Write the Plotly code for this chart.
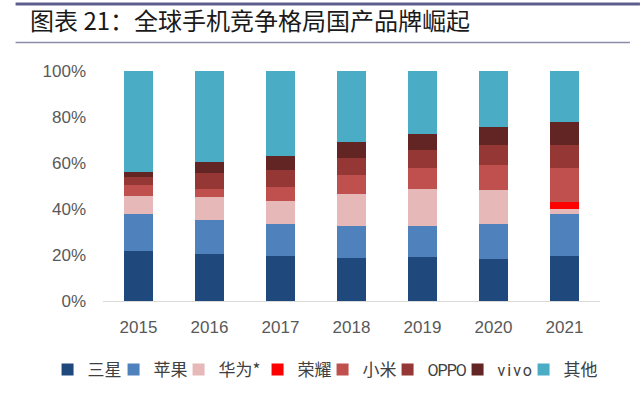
import plotly.graph_objects as go

years = ["2015", "2016", "2017", "2018", "2019", "2020", "2021"]
brands = ["三星", "苹果", "华为*", "荣耀", "小米", "OPPO", "vivo", "其他"]

samsung = [21.6, 20.4, 19.6, 18.8, 19.1, 18.4, 19.6]
apple = [16.4, 14.8, 13.9, 13.8, 13.3, 15.2, 18.1]
huawei = [7.5, 9.9, 10.0, 13.9, 16.4, 14.5, 2.3]
honor = [0, 0, 0, 0, 0, 0, 3.2]
xiaomi = [5.1, 3.6, 6.1, 8.3, 9.0, 10.9, 14.8]
oppo = [3.3, 7.0, 7.2, 7.4, 7.7, 8.7, 9.8]
vivo = [2.0, 4.8, 6.2, 6.8, 7.0, 8.0, 9.9]
others = [44.0, 39.6, 37.0, 31.0, 27.5, 24.3, 22.3]

series = [samsung, apple, huawei, honor, xiaomi, oppo, vivo, others]
colors = ["#1F497D", "#4F81BD", "#E6B9B8", "#FF0000", "#C0504D", "#953735", "#632523", "#4BACC6"]
legend_labels = ["三星", "苹果", "华为*", "荣耀", "小米",
                 "<span style='font-family:Roboto;font-size:16px;letter-spacing:-1px'>OPPO</span>",
                 "<span style='font-family:Roboto;font-size:16px;letter-spacing:2px'>vivo</span>",
                 "其他"]
legend_widths = [21, 20, 34, 20, 20, 25, 21, 36]

fig = go.Figure()
for name, label, vals, col, lw in zip(brands, legend_labels, series, colors, legend_widths):
    fig.add_trace(go.Bar(
        x=years, y=vals, name=label,
        marker=dict(color=col, line=dict(width=0)),
        legendwidth=lw,
    ))

W, H = 640, 399
L, R = 102.5, 600
T, B = 71, 301

def px_x(p):
    return (p - L) / (R - L)

def px_y(p):
    return (B - p) / (B - T)

fig.update_layout(
    width=W, height=H,
    margin=dict(l=L, r=W - R, t=T, b=H - B, pad=0, autoexpand=False),
    barmode="stack",
    bargap=0.6,
    plot_bgcolor="white",
    paper_bgcolor="white",
    font=dict(family="Liberation Sans, Arial, sans-serif", color="#595959"),
    title=dict(
        text="图表 21：全球手机竞争格局国产品牌崛起",
        font=dict(family="Noto Sans CJK SC", size=24, color="#1a1a1a"),
        x=30 / W, xanchor="left", xref="container",
        y=1 - 22 / H, yanchor="middle", yref="container",
    ),
    legend=dict(
        orientation="h",
        x=px_x(47), xanchor="left",
        y=px_y(370), yanchor="middle",
        font=dict(family="Noto Sans CJK SC", size=17, color="#404040"),
        traceorder="normal",
        itemclick=False,
        bgcolor="rgba(0,0,0,0)",
        entrywidthmode="pixels",
    ),
    showlegend=True,
    shapes=[
        dict(type="line", xref="paper", yref="paper",
             x0=px_x(15), x1=px_x(640), y0=px_y(4), y1=px_y(4),
             line=dict(color="#5E5E8E", width=3)),
        dict(type="line", xref="paper", yref="paper",
             x0=px_x(15), x1=px_x(630), y0=px_y(42.5), y1=px_y(42.5),
             line=dict(color="#8C8CA8", width=1.5)),
    ],
)

fig.update_xaxes(
    type="category",
    showgrid=False,
    showline=True, linecolor="#D9D9D9", linewidth=1.2,
    ticks="", ticklabelstandoff=10,
    tickfont=dict(size=17, color="#595959"),
)
fig.update_yaxes(
    range=[0, 100],
    dtick=20,
    ticksuffix="%",
    showgrid=False,
    showline=False,
    zeroline=False,
    ticks="", ticklabelstandoff=16,
    tickfont=dict(size=17, color="#595959"),
)

fig.write_html("out.html", config={"displayModeBar": False},
               post_script="document.body.style.margin='0';")
